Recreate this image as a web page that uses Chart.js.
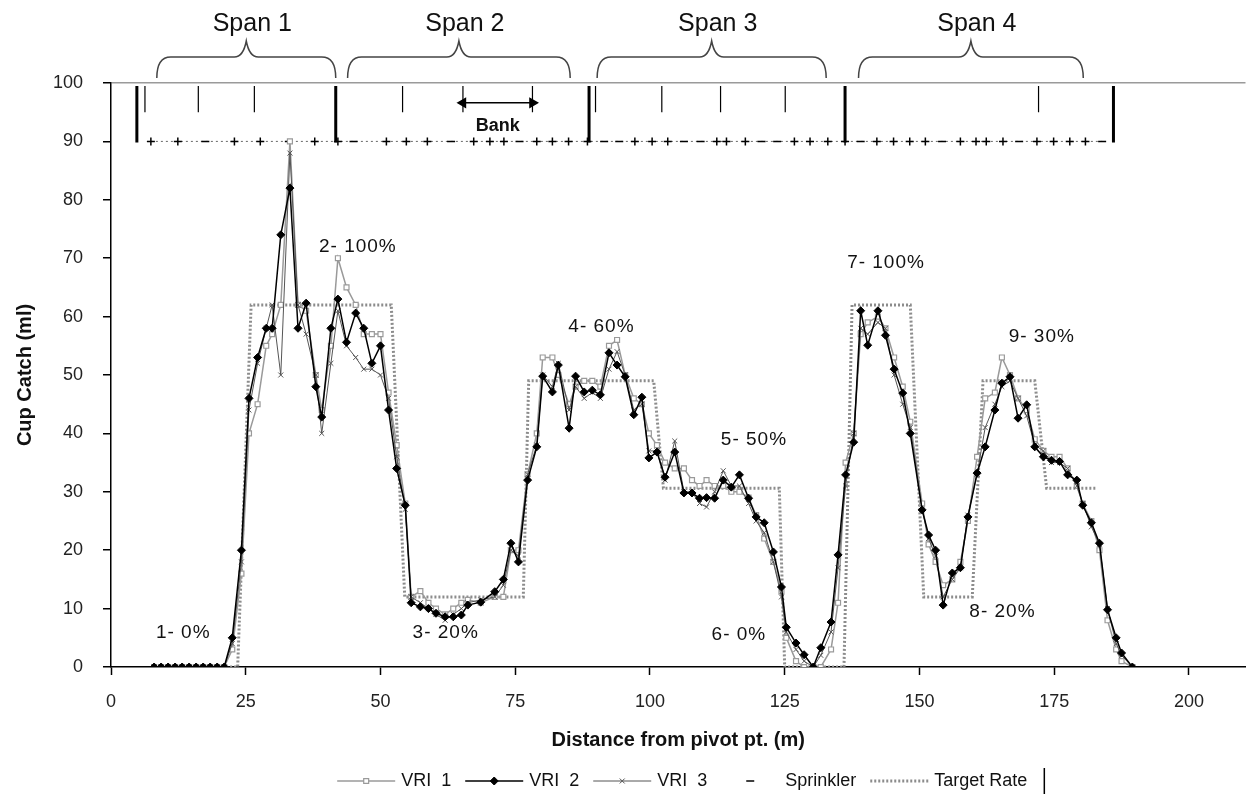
<!DOCTYPE html>
<html>
<head>
<meta charset="utf-8">
<title>Cup catch along the pivot</title>
<script src="https://cdn.jsdelivr.net/npm/chart.js@4.4.1/dist/chart.umd.min.js"></script>
<style>
  html, body { margin: 0; padding: 0; background: #fff; }
  #chart { display: block; }
</style>
</head>
<body>
<canvas id="chart" width="1252" height="803"></canvas>
<script>
'use strict';

// cup positions (m from pivot) shared by the three VRI runs
var distance = [
  8, 9.3, 10.6, 11.9, 13.2, 14.5, 15.8, 17.1, 18.4, 19.7,
  21, 22.5, 24.2, 25.6, 27.2, 28.8, 29.9, 31.5, 33.2, 34.7,
  36.2, 38, 39.1, 40.8, 42.1, 43.7, 45.4, 46.9, 48.4, 50,
  51.5, 53, 54.6, 55.7, 57.4, 58.9, 60.3, 62, 63.5, 65,
  66.2, 68.6, 71.2, 72.8, 74.2, 75.6, 77.3, 79, 80.1, 81.9,
  83, 85, 86.2, 87.8, 89.3, 90.8, 92.4, 93.9, 95.4, 97,
  98.5, 99.8, 101.3, 102.8, 104.6, 106.3, 107.8, 109.2, 110.5, 112,
  113.6, 115.1, 116.6, 118.3, 119.7, 121.2, 122.9, 124.4, 125.3, 127.1,
  128.6, 130.3, 131.7, 133.6, 134.9, 136.3, 137.8, 139.1, 140.4, 142.3,
  143.7, 145.3, 146.9, 148.3, 150.5, 151.7, 153, 154.4, 156.1, 157.6,
  159, 160.7, 162.2, 164, 165.3, 166.8, 168.3, 169.9, 171.4, 173,
  174.5, 176, 177.5, 179.2, 180.3, 181.9, 183.4, 184.9, 186.5, 187.5,
  189.5
];

var vri1 = [
  0, 0, 0, 0, 0, 0, 0, 0, 0, 0,
  0, 3, 16, 40, 45, 55, 57, 62, 90, 62,
  61, 50, 44, 55, 70, 65, 62, 57, 57, 57,
  47, 38, 28, 12, 13, 11, 10, 9, 10, 11,
  11.5, 11, 12, 12, 20, 20, 33, 40, 53, 53,
  50, 45, 48, 49, 49, 48, 55, 56, 50, 46,
  45, 40, 38, 35, 34, 34, 32, 31, 32, 31,
  31, 30, 30, 29, 26, 22, 18, 13, 5, 1,
  0, 0, 0, 3, 11, 35, 40, 57, 59, 60,
  58, 53, 48, 42, 28, 21, 18, 14, 15, 18,
  25, 36, 46, 47, 53, 50, 46, 44, 39, 37,
  36, 36, 34, 31, 28, 25, 20, 8, 3, 1,
  0
];

var vri2 = [
  0, 0, 0, 0, 0, 0, 0, 0, 0, 0,
  0, 5, 20, 46, 53, 58, 58, 74, 82, 58,
  62.3, 48, 42.8, 58, 63, 55.6, 60.6, 58, 52, 55,
  44, 34, 27.7, 11, 10.3, 10, 9.2, 8.6, 8.6, 8.9,
  10.6, 11.1, 12.9, 15, 21.2, 18, 32, 37.7, 49.8, 47.1,
  51.7, 40.9, 49.8, 47.1, 47.4, 46.6, 53.8, 51.7, 49.7, 43.2,
  46.2, 35.8, 36.8, 32.5, 36.8, 29.8, 29.8, 28.9, 29, 28.9,
  32, 30.8, 32.9, 28.9, 25.7, 24.7, 19.7, 13.7, 6.8, 4.1,
  2.1, 0, 3.3, 7.7, 19.2, 32.9, 38.5, 61, 55.1, 61,
  56.8, 51, 46.9, 40, 26.9, 22.6, 20, 10.6, 16.1, 17,
  25.7, 33.2, 37.7, 44, 48.6, 49.7, 42.6, 44.9, 37.7, 36,
  35.4, 35.2, 32.9, 32, 27.7, 24.7, 21.2, 9.8, 5, 2.4,
  0
];

var vri3 = [
  0, 0, 0, 0, 0, 0, 0, 0, 0, 0,
  0, 4, 18, 44, 52, 58, 62, 50, 88, 62,
  57, 50, 40, 52, 61, 55, 53, 51, 51, 50,
  46, 36, 27, 12, 11, 10, 9, 8, 9, 10,
  11, 11.5, 12, 14, 20, 19, 33, 38, 50, 48,
  52, 44, 48, 46, 47, 46, 51, 54, 50, 44,
  45, 37, 37, 32, 38.7, 30, 30, 28, 27.4, 30,
  33.6, 31, 31, 28, 25, 23, 18, 12, 6, 3,
  1, 0, 2, 6, 17, 31, 40, 58, 57, 59,
  58, 50, 45, 41, 27, 22, 19, 12, 15, 17,
  26, 33, 41, 45, 48, 49, 46, 43, 38, 37,
  35, 35, 34, 31, 28, 24, 21, 10, 4, 2,
  0
];

// prescribed application (dotted step line)
var targetDist = [8, 23.5, 26, 52, 54.5, 76.5, 77.5, 100.7, 102.5, 124, 125, 136, 137.5, 148.3, 150.8, 159.8, 161.8, 171.4, 173.6, 182.8];
var targetRate = [0, 0, 62, 62, 12, 12, 49, 49, 30.6, 30.6, 0, 0, 62, 62, 12, 12, 49, 49, 30.6, 30.6];

// sprinkler positions drawn along the 90 line
var sprinklerDist = [
  7.4, 12.4, 17.5, 22.9, 27.7, 33.0, 37.8, 42.1, 45.0, 51.1,
  54.8, 58.7, 63.1, 67.3, 70.3, 72.9, 75.8, 79.0, 81.9, 84.9,
  88.4, 91.5, 94.3, 97.2, 100.4, 103.3, 106.3, 109.4, 112.4, 114.2,
  117.7, 120.7, 123.6, 126.8, 129.7, 133.0, 136.2, 139.1, 142.1, 145.2,
  148.2, 151.1, 154.2, 157.6, 160.5, 162.4, 165.5, 168.5, 171.8, 174.9,
  177.9, 180.8, 183.9
];
var sprinklerType = [
  '+', '+', '-', '+', '+', '-', '+', '+', '-', '+',
  '+', '+', '-', '+', '+', '+', '-', '+', '+', '+',
  '+', '-', '-', '+', '+', '+', '-', '-', '+', '+',
  '+', '-', '-', '+', '+', '+', '+', '-', '+', '+',
  '+', '+', '-', '+', '+', '+', '+', '-', '+', '+',
  '+', '+', '-'
];
var sprinklerLevel = 90;

// towers (long marks) and drops / bank ends (short marks)
var towerDist = [4.8, 41.7, 88.7, 136.2, 186.0];
var towerTop = 99.5;
var towerBase = 89.8;
var dropDist = [6.3, 16.2, 26.6, 54.1, 65.3, 78.2, 89.9, 102.2, 113.1, 125.1, 172.1];
var dropBase = 95;
var bankDist = [65.3, 78.2];
var bankLevel = 96.6;
var bankLabelLevel = 92.6;

var spanNames = ['Span 1', 'Span 2', 'Span 3', 'Span 4'];
var spanStart = [8.5, 43.9, 90.2, 138.7];
var spanEnd = [41.7, 85.2, 132.7, 180.4];

var zoneText = ['1- 0%', '2- 100%', '3- 20%', '4- 60%', '5- 50%', '6- 0%', '7- 100%', '8- 20%', '9- 30%'];
var zoneX = [13.4, 45.8, 62.1, 91, 119.3, 116.5, 143.8, 165.4, 172.7];
var zoneY = [5.8, 71.9, 5.8, 58.2, 38.9, 5.5, 69.2, 9.4, 56.5];

var FONT = '"Liberation Sans", Arial, sans-serif';

function pts(xs, ys) {
  return xs.map(function (x, i) { return { x: x, y: ys[i] }; });
}

function marks(xs, top, bottom) {
  var out = [];
  xs.forEach(function (x) {
    out.push({ x: x, y: top }, { x: x, y: bottom }, { x: x, y: null });
  });
  return out;
}

function drawBrace(ctx, x0, x1, yEnd, yMid, yTip) {
  var xm = (x0 + x1) / 2;
  var r = 14;
  ctx.beginPath();
  ctx.moveTo(x0, yEnd);
  ctx.quadraticCurveTo(x0, yMid, x0 + r, yMid);
  ctx.lineTo(xm - 12, yMid);
  ctx.quadraticCurveTo(xm - 3, yMid, xm, yTip);
  ctx.quadraticCurveTo(xm + 3, yMid, xm + 12, yMid);
  ctx.lineTo(x1 - r, yMid);
  ctx.quadraticCurveTo(x1, yMid, x1, yEnd);
  ctx.stroke();
}

var annotationPlugin = {
  id: 'cupAnnotations',
  afterDatasetsDraw: function (chart) {
    var ctx = chart.ctx;
    var xs = chart.scales.x;
    var ys = chart.scales.y;
    var top = chart.chartArea.top;

    ctx.save();
    ctx.textAlign = 'center';
    ctx.textBaseline = 'middle';
    ctx.fillStyle = '#111';

    // zone labels
    ctx.font = '19px ' + FONT;
    ctx.letterSpacing = '1px';
    zoneText.forEach(function (t, i) {
      ctx.fillText(t, xs.getPixelForValue(zoneX[i]), ys.getPixelForValue(zoneY[i]));
    });

    // bank label
    ctx.letterSpacing = '0px';
    ctx.font = 'bold 18px ' + FONT;
    ctx.fillText('Bank', xs.getPixelForValue((bankDist[0] + bankDist[1]) / 2), ys.getPixelForValue(bankLabelLevel));

    // span braces and names above the plot
    ctx.strokeStyle = '#444';
    ctx.lineWidth = 1.5;
    ctx.font = '25px ' + FONT;
    spanNames.forEach(function (name, i) {
      var x0 = xs.getPixelForValue(spanStart[i]);
      var x1 = xs.getPixelForValue(spanEnd[i]);
      drawBrace(ctx, x0, x1, top - 5, top - 26, top - 42);
      ctx.fillText(name, (x0 + x1) / 2 + 6, top - 59);
    });
    ctx.restore();
  },

  afterDraw: function (chart) {
    // Excel-like legend: line sample with marker in the middle
    var ctx = chart.ctx;
    var items = chart.data.datasets.filter(function (ds) { return ds.legendKind; });
    var sample = 58, gap = 6, itemGap = 14;
    ctx.save();
    ctx.font = '18px ' + FONT;
    var total = 0;
    items.forEach(function (ds) {
      total += (ds.legendKind === 'bar' ? 6 : sample);
      if (ds.label) total += gap + ctx.measureText(ds.label).width;
      total += itemGap;
    });
    total -= itemGap;
    var area = chart.chartArea;
    var x = (area.left + area.right) / 2 - total / 2 + 14;
    var y = 781;
    ctx.textBaseline = 'middle';
    ctx.textAlign = 'left';
    items.forEach(function (ds) {
      if (ds.legendKind === 'bar') {
        ctx.strokeStyle = '#000';
        ctx.lineWidth = 1.5;
        ctx.beginPath();
        ctx.moveTo(x + 3, y - 13);
        ctx.lineTo(x + 3, y + 13);
        ctx.stroke();
        x += 6;
      } else {
        if (ds.legendKind !== 'marker') {
          ctx.strokeStyle = ds.borderColor;
          ctx.lineWidth = ds.borderWidth;
          ctx.setLineDash(ds.borderDash || []);
          ctx.beginPath();
          ctx.moveTo(x, y);
          ctx.lineTo(x + sample, y);
          ctx.stroke();
          ctx.setLineDash([]);
        }
        if (ds.legendMarker) {
          ctx.strokeStyle = ds.pointBorderColor;
          ctx.fillStyle = ds.pointBackgroundColor;
          ctx.lineWidth = ds.pointBorderWidth || 1;
          Chart.helpers.drawPoint(ctx, {
            pointStyle: ds.legendMarker,
            radius: typeof ds.pointRadius === 'number' && ds.pointRadius > 0 ? ds.pointRadius : 4,
            rotation: 0,
            borderWidth: ds.pointBorderWidth || 1
          }, x + sample / 2, y);
        }
        x += sample;
      }
      if (ds.label) {
        ctx.fillStyle = '#111';
        ctx.fillText(ds.label, x + gap, y);
        x += gap + ctx.measureText(ds.label).width;
      }
      x += itemGap;
    });
    ctx.restore();
  }
};

var ctx = document.getElementById('chart').getContext('2d');

new Chart(ctx, {
  type: 'scatter',
  data: {
    datasets: [
      {
        label: 'VRI  1',
        data: pts(distance, vri1),
        showLine: true,
        borderColor: '#9a9a9a',
        borderWidth: 1.5,
        pointStyle: 'rect',
        pointRadius: 3.5,
        pointBorderColor: '#9a9a9a',
        pointBackgroundColor: '#fff',
        pointBorderWidth: 1.2,
        legendKind: 'line',
        legendMarker: 'rect',
        order: 3
      },
      {
        label: 'VRI  2',
        data: pts(distance, vri2),
        showLine: true,
        borderColor: '#000',
        borderWidth: 1.5,
        pointStyle: 'rectRot',
        pointRadius: 4,
        pointBorderColor: '#000',
        pointBackgroundColor: '#000',
        pointBorderWidth: 1,
        legendKind: 'line',
        legendMarker: 'rectRot',
        order: 1
      },
      {
        label: 'VRI  3',
        data: pts(distance, vri3),
        showLine: true,
        borderColor: '#555',
        borderWidth: 1,
        pointStyle: 'crossRot',
        pointRadius: 3.5,
        pointBorderColor: '#555',
        pointBackgroundColor: '#555',
        pointBorderWidth: 1,
        legendKind: 'line',
        legendMarker: 'crossRot',
        order: 2
      },
      {
        label: 'Sprinkler',
        data: sprinklerDist.map(function (d) { return { x: d, y: sprinklerLevel }; }),
        showLine: true,
        borderColor: '#666',
        borderWidth: 1,
        borderDash: [2, 3],
        pointStyle: sprinklerType.map(function (t) { return t === '+' ? 'cross' : 'line'; }),
        pointRadius: 4,
        pointBorderColor: '#000',
        pointBackgroundColor: '#000',
        pointBorderWidth: 1.5,
        legendKind: 'marker',
        legendMarker: 'line',
        order: 5
      },
      {
        label: 'Target Rate',
        data: pts(targetDist, targetRate),
        showLine: true,
        borderColor: '#8c8c8c',
        borderWidth: 3,
        borderDash: [2, 2],
        pointRadius: 0,
        legendKind: 'line',
        order: 4
      },
      {
        label: '',
        data: marks(towerDist, towerTop, towerBase),
        showLine: true,
        spanGaps: false,
        borderColor: '#000',
        borderWidth: 3,
        pointRadius: 0,
        clip: false,
        legendKind: 'bar',
        order: 6
      },
      {
        data: marks(dropDist, towerTop, dropBase),
        showLine: true,
        spanGaps: false,
        borderColor: '#000',
        borderWidth: 1.2,
        pointRadius: 0,
        clip: false,
        order: 7
      },
      {
        data: pts(bankDist, [bankLevel, bankLevel]),
        showLine: true,
        borderColor: '#000',
        borderWidth: 1.5,
        pointStyle: 'triangle',
        pointRotation: [270, 90],
        pointRadius: 5,
        pointBorderColor: '#000',
        pointBackgroundColor: '#000',
        order: 8
      }
    ]
  },
  options: {
    responsive: false,
    animation: false,
    devicePixelRatio: 1,
    layout: { padding: { top: 83, left: 6, right: 0, bottom: 36 } },
    plugins: {
      legend: { display: false },
      tooltip: { enabled: false }
    },
    scales: {
      x: {
        type: 'linear',
        min: 0,
        max: 210.5,
        afterBuildTicks: function (axis) {
          axis.ticks = axis.ticks.filter(function (t) { return t.value % 25 === 0; });
        },
        afterFit: function (scale) { scale.height = 100; },
        ticks: {
          stepSize: 25,
          includeBounds: false,
          color: '#222',
          padding: 16,
          font: { family: FONT, size: 18 },
          maxRotation: 0
        },
        grid: {
          drawOnChartArea: false,
          tickLength: 8,
          tickColor: '#000',
          tickWidth: 1.5
        },
        border: { color: '#000', width: 1.5 },
        title: {
          display: true,
          text: 'Distance from pivot pt. (m)',
          color: '#111',
          font: { family: FONT, size: 20, weight: 'bold' },
          padding: { top: 4, bottom: 15 }
        }
      },
      y: {
        min: 0,
        max: 100,
        afterFit: function (scale) { scale.width = 105; },
        ticks: {
          stepSize: 10,
          color: '#222',
          padding: 20,
          font: { family: FONT, size: 18 }
        },
        grid: {
          color: function (c) { return c.tick && c.tick.value === 100 ? '#9a9a9a' : 'rgba(0,0,0,0)'; },
          lineWidth: 1.5,
          tickLength: 8,
          tickColor: '#000',
          tickWidth: 1.5
        },
        border: { color: '#000', width: 1.5 },
        title: {
          display: true,
          text: 'Cup Catch (ml)',
          color: '#111',
          font: { family: FONT, size: 20, weight: 'bold' },
          padding: { top: 7, bottom: 4 }
        }
      }
    }
  },
  plugins: [annotationPlugin]
});
</script>
</body>
</html>
